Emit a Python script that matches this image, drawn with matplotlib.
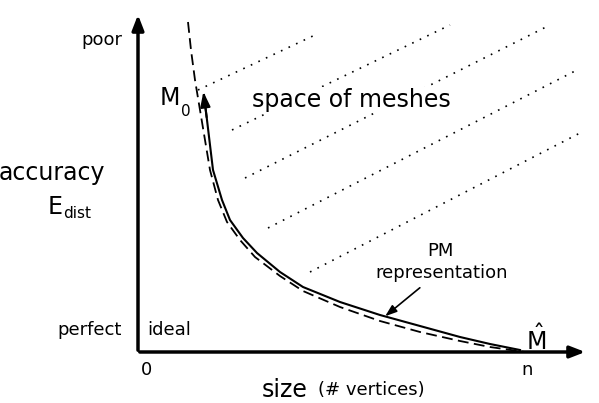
import matplotlib
matplotlib.use("Agg")
import matplotlib.pyplot as plt

solid_x = [204, 207, 210, 213, 222, 230, 243, 257, 280, 303, 340, 380, 420, 460, 490, 520]
solid_y = [95, 120, 145, 170, 200, 220, 238, 253, 272, 287, 302, 315, 326, 337, 344, 350]
dash_x = [188, 191, 195, 200, 205, 210, 218, 227, 240, 255, 280, 303, 340, 380, 420, 460, 490, 525]
dash_y = [22, 50, 80, 110, 140, 170, 200, 222, 240, 257, 276, 291, 307, 321, 332, 341, 347, 352]
dot_x0 = [198, 232, 245, 268, 310]
dot_y0 = [90, 130, 178, 228, 272]
dot_x1 = [315, 450, 550, 577, 580]
dot_y1 = [35, 25, 25, 70, 133]

fig = plt.figure(figsize=(5.99, 4.03), dpi=100)
ax = fig.add_axes([0, 0, 1, 1])
ax.set_xlim(0, 599); ax.set_ylim(403, 0); ax.axis("off")

ax.annotate("", xy=(138, 12), xytext=(138, 353),
            arrowprops=dict(arrowstyle="-|>,head_width=0.35,head_length=0.9", color="black", lw=2.5))
ax.annotate("", xy=(588, 352), xytext=(137, 352),
            arrowprops=dict(arrowstyle="-|>,head_width=0.35,head_length=0.9", color="black", lw=2.5))

for a, b, c, d in zip(dot_x0, dot_y0, dot_x1, dot_y1):
    ax.plot([a, c], [b, d], color="black", lw=1.2, ls=(0, (1, 4)), zorder=1)
ax.plot(solid_x, solid_y, color="black", lw=1.5, zorder=3)
ax.plot(dash_x, dash_y, color="black", lw=1.3, ls=(0, (6, 3)), zorder=3)
ax.annotate("", xy=(solid_x[0] - 1, solid_y[0] - 6), xytext=(solid_x[1], solid_y[1]),
            arrowprops=dict(arrowstyle="-|>,head_width=0.3,head_length=0.9", color="black", lw=1.5), zorder=4)

fs = 13
ax.text(122, 40, "poor", ha="right", va="center", fontsize=fs)
ax.text(122, 330, "perfect", ha="right", va="center", fontsize=fs)
ax.text(52, 173, "accuracy", ha="center", va="center", fontsize=17)
ax.text(55, 207, "E", ha="center", va="center", fontsize=17)
ax.text(63, 214, "dist", ha="left", va="center", fontsize=11)
ax.text(147, 330, "ideal", ha="left", va="center", fontsize=fs)
ax.text(147, 370, "0", ha="center", va="center", fontsize=fs)
ax.text(527, 370, "n", ha="center", va="center", fontsize=fs)
ax.text(262, 390, "size", ha="left", va="center", fontsize=17)
ax.text(318, 390, "(# vertices)", ha="left", va="center", fontsize=13)
ax.text(160, 98, "M", ha="left", va="center", fontsize=17)
ax.text(181, 111, "0", ha="left", va="center", fontsize=11)
ax.text(252, 100, "space of meshes", ha="left", va="center", fontsize=17, zorder=2,
        bbox=dict(facecolor="white", edgecolor="none", pad=1))
ax.text(440, 251, "PM", ha="center", va="center", fontsize=fs)
ax.text(442, 273, "representation", ha="center", va="center", fontsize=fs, zorder=2,
        bbox=dict(facecolor="white", edgecolor="none", pad=1))
ax.annotate("", xy=(383, 318), xytext=(422, 286),
            arrowprops=dict(arrowstyle="-|>,head_width=0.25,head_length=0.7", color="black", lw=1.2))
ax.text(536, 340, r"$\hat{\mathrm{M}}$", ha="center", va="center", fontsize=17)

fig.savefig("out.png", dpi=100)
